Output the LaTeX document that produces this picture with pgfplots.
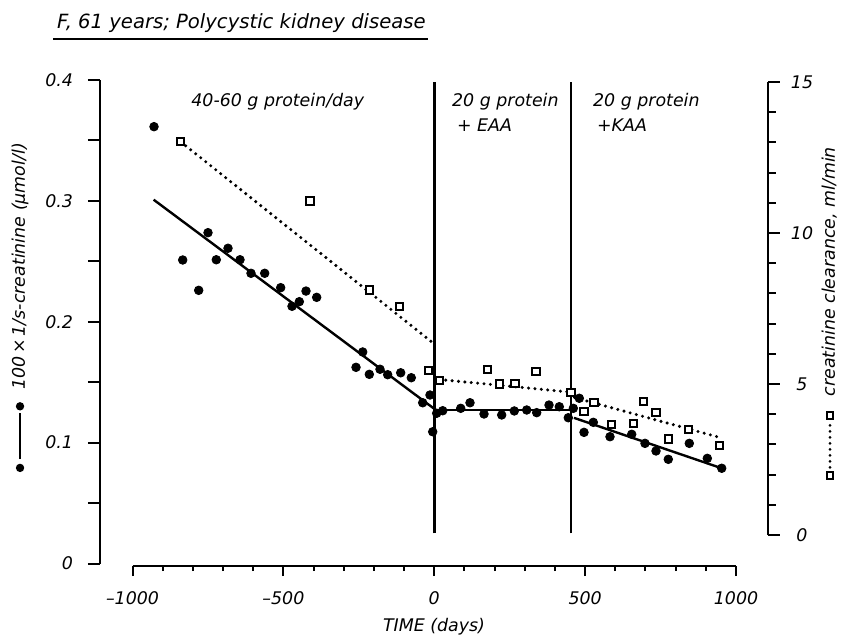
\documentclass[border=0pt]{standalone}
\usepackage{fontspec}
\setmainfont{DejaVu Sans}
\usepackage{pgfplots}
\usepackage{pgfplotstable}
\pgfplotsset{compat=1.18}

\newcommand\lbl{\fontsize{8.7}{10}\selectfont\itshape}

% 100 x 1/s-creatinine (left axis)
\pgfplotstableread{
x y
-928.7 0.3614
-833.6 0.2511
-780.6 0.2260
-749.8 0.2737
-722.3 0.2513
-683.5 0.2608
-643.7 0.2513
-607.3 0.2401
-561.9 0.2401
-508.9 0.2282
-471.4 0.2128
-447.2 0.2166
-425.0 0.2254
-389.6 0.2202
-259.3 0.1623
-237.1 0.1750
-215.2 0.1565
-179.8 0.1607
-154.3 0.1562
-111.2 0.1578
-76.1 0.1537
-38.3 0.1330
-14.1 0.1394
-5.1 0.1090
8.1 0.1243
28.0 0.1264
87.7 0.1284
118.5 0.1330
164.9 0.1237
223.5 0.1229
265.3 0.1262
306.4 0.1270
339.5 0.1248
380.3 0.1311
414.4 0.1297
444.2 0.1206
460.8 0.1284
480.7 0.1367
496.3 0.1085
527.1 0.1168
582.4 0.1049
654.4 0.1069
698.4 0.0994
734.9 0.0931
775.6 0.0862
845.2 0.0994
904.9 0.0870
952.6 0.0788
}\creat

% creatinine clearance (right axis)
\pgfplotstableread{
x y
-840.3 13.02
-411.8 11.06
-215.2 8.11
-115.8 7.56
-19.7 5.46
16.7 5.11
177.1 5.49
215.6 5.00
267.6 5.02
337.2 5.42
453.2 4.73
496.3 4.08
529.4 4.39
588.1 3.67
659.7 3.70
692.8 4.41
734.9 4.06
775.6 3.18
841.9 3.50
944.7 2.97
}\clear

\begin{document}
\begin{tikzpicture}[font=\lbl]
\path[use as bounding box] (0,0) rectangle (422pt,-318.5pt);

\pgfplotsset{
  every axis/.append style={
    scale only axis, clip=false,
    tick style={line width=1pt, black},
    axis line style={-, line width=1.35pt},
    ticklabel style={font=\lbl},
  },
  dotline/.style={line width=1.7pt, dash pattern=on 0pt off 3.2pt, line cap=round},
}

% left axis: 100 x 1/s-creatinine
\begin{axis}[
  at={(50pt,-281.75pt)}, anchor=south west,
  width=318pt, height=241.75pt,
  xmin=-1107.7, xmax=1000, ymin=0, ymax=0.4,
  axis y line*=left, axis x line=none,
  y axis line style={-},
  tick align=outside,
  ytick={0,0.1,0.2,0.3,0.4}, yticklabels={0,0.1,0.2,0.3,0.4},
  minor ytick={0.05,0.15,0.25,0.35},
  major tick length=6pt, minor tick length=6pt,
  yticklabel style={xshift=-4pt},
]
  \addplot[line width=1.25pt] coordinates {(0,0.025) (0,0.398)};
  \addplot[line width=1.25pt] coordinates {(453,0.025) (453,0.398)};
  \addplot[line width=1.2pt] coordinates {(-930,0.301) (0,0.128)};
  \addplot[line width=1.2pt] coordinates {(0,0.127) (453,0.127)};
  \addplot[line width=1.2pt] coordinates {(463,0.1205) (952.6,0.0788)};
  \addplot[only marks, mark=*, mark size=2.15pt] table {\creat};
\end{axis}

% right axis: creatinine clearance
\begin{axis}[
  at={(66.25pt,-267.5pt)}, anchor=south west,
  width=317.75pt, height=226.5pt,
  xmin=-1000, xmax=1106, ymin=0, ymax=15,
  axis y line*=right, axis x line=none,
  y axis line style={-},
  tick align=outside,
  ytick={0,5,10,15}, yticklabels={0,5,10,15},
  minor ytick={1,2,3,4,6,7,8,9,11,12,13,14},
  major tick length=5.8pt, minor tick length=3.8pt,
  yticklabel style={anchor=west, text width=12pt, align=center, inner sep=0pt, xshift=5pt},
]
  \addplot[dotline] coordinates {(-840.3,13.02) (-3,6.35)};
  \addplot[dotline] coordinates {(17,5.15) (453,4.73)};
  \addplot[dotline] coordinates {(465,4.55) (950,3.22)};
  \addplot[only marks, mark=square*, mark size=1.8pt,
    mark options={line width=1pt, fill=white, draw=black}] table {\clear};
\end{axis}

% time axis
\begin{axis}[
  at={(66.25pt,-283pt)}, anchor=south west,
  width=301.75pt, height=20pt,
  xmin=-1000, xmax=1000, ymin=0, ymax=1,
  axis x line*=bottom, axis y line=none,
  x axis line style={-},
  tick align=outside,
  xtick={-1000,-500,0,500,1000}, xticklabels={--1000,--500,0,500,1000},
  minor x tick num=4,
  major tick length=5pt, minor tick length=2.5pt,
  xticklabel style={yshift=-4.1pt},
]
\end{axis}

\node[anchor=base, inner sep=0] at (217pt,-315.85pt) {TIME (days)};

% title
\node[anchor=base west, inner sep=0, font=\fontsize{9.8}{12}\selectfont\itshape]
  at (28.3pt,-14.15pt) {F, 61 years; Polycystic kidney disease};
\draw[line width=1pt] (26.7pt,-19.65pt) -- (213.8pt,-19.65pt);

% period labels
\node[anchor=base west, inner sep=0] at (95.5pt,-53pt) {40-60 g protein/day};
\node[anchor=base west, inner sep=0] at (225.85pt,-53.3pt) {20 g protein};
\node[anchor=base west, inner sep=0] at (228.35pt,-65.85pt) {+ EAA};
\node[anchor=base west, inner sep=0] at (296.35pt,-53.3pt) {20 g protein};
\node[anchor=base west, inner sep=0] at (298.35pt,-65.85pt) {+KAA};

% axis titles with their symbols
\node[rotate=90, anchor=base west, inner sep=0] at (12.4pt,-236.25pt)
  {\tikz[baseline=-0.5ex]{\fill (2.1pt,0) circle (2.1pt);
     \draw[line width=1pt] (6.5pt,0) -- (29.5pt,0);
     \fill (32.9pt,0) circle (2.1pt);}\hspace{6.2pt}100\,×\,1/s-creatinine (µmol/l)};
\node[rotate=90, anchor=base west, inner sep=0] at (417.4pt,-239.95pt)
  {\tikz[baseline=-0.5ex]{\draw[line width=1pt] (2.1pt,0) +(-1.65pt,-1.65pt) rectangle +(1.65pt,1.65pt);
     \draw[line width=1.5pt, dash pattern=on 0pt off 3pt, line cap=round] (6pt,0) -- (28.5pt,0);
     \draw[line width=1pt] (31.95pt,0) +(-1.65pt,-1.65pt) rectangle +(1.65pt,1.65pt);}\hspace{7.4pt}creatinine clearance, ml/min};
\end{tikzpicture}
\end{document}
